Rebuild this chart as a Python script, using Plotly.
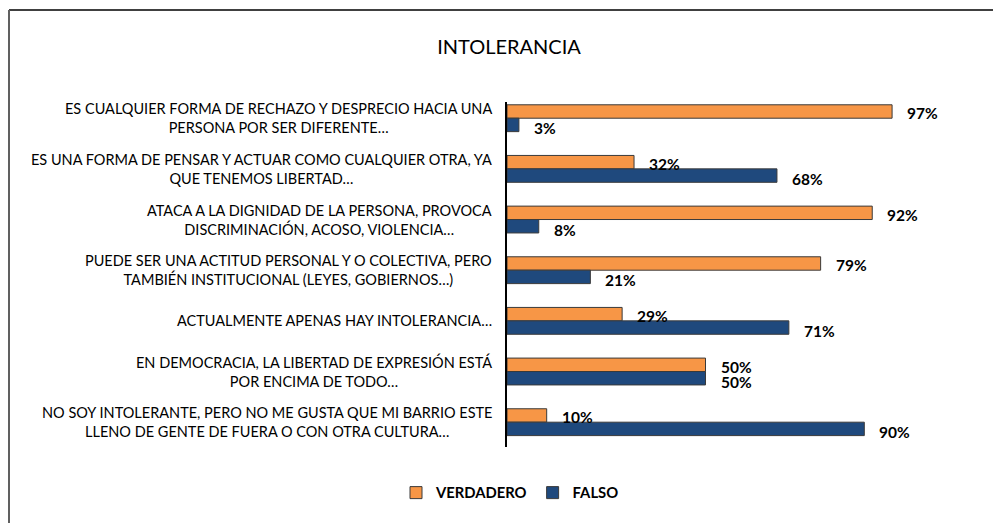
import plotly.graph_objects as go

categories = [
    "ES CUALQUIER FORMA DE RECHAZO Y DESPRECIO HACIA UNA<br>PERSONA POR SER DIFERENTE…",
    "ES UNA FORMA DE PENSAR Y ACTUAR COMO CUALQUIER OTRA, YA<br>QUE TENEMOS LIBERTAD…",
    "ATACA A LA DIGNIDAD DE LA PERSONA, PROVOCA<br>DISCRIMINACIÓN, ACOSO, VIOLENCIA…",
    "PUEDE SER UNA ACTITUD PERSONAL Y O COLECTIVA, PERO<br>TAMBIÉN INSTITUCIONAL (LEYES, GOBIERNOS…)",
    "ACTUALMENTE APENAS HAY INTOLERANCIA…",
    "EN DEMOCRACIA, LA LIBERTAD DE EXPRESIÓN ESTÁ<br>POR ENCIMA DE TODO…",
    "NO SOY INTOLERANTE, PERO NO ME GUSTA QUE MI BARRIO ESTE<br>LLENO DE GENTE DE FUERA O CON OTRA CULTURA…",
]
verdadero = [0.97, 0.32, 0.92, 0.79, 0.29, 0.50, 0.10]
falso = [0.03, 0.68, 0.08, 0.21, 0.71, 0.50, 0.90]
series_names = ["VERDADERO", "FALSO"]
colors = ["#F79646", "#1F497D"]

# page body margin offset (browser default 8px)
OX, OY = 8, 8
W, H = 1001 - OX, 523 - OY
ML, MR, MT, MB = 507 - OX, 97, 102 - OY, 76
PW = W - ML - MR
PH = H - MT - MB

def px_x(px):
    return (px - OX - ML) / PW

def px_y(py):
    return (H - MB - (py - OY)) / PH

ids = list(range(len(categories)))
FONT = "Lato"

fig = go.Figure()
for name, vals, col in zip(series_names, [verdadero, falso], colors):
    fig.add_trace(go.Bar(
        y=ids, x=vals, name=name, orientation="h",
        marker=dict(color=col, line=dict(color="#3a3a3a", width=1)),
        hoverinfo="x+name",
    ))

annotations = []
for i, cat in enumerate(categories):
    annotations.append(dict(
        x=0, y=i, xref="x", yref="y", text=cat, showarrow=False,
        xanchor="right", yanchor="middle", xshift=-13, align="center",
        font=dict(family=FONT, size=14.5, color="#000000"),
    ))
for vals, ys in [(verdadero, 5), (falso, -10)]:
    for i, v in enumerate(vals):
        annotations.append(dict(
            x=v, y=i, xref="x", yref="y", text=f"{round(v*100)}%",
            showarrow=False, xanchor="left", yanchor="middle",
            xshift=13, yshift=ys,
            font=dict(family=FONT, size=15.5, color="#000000", weight="bold"),
        ))

shapes = [
    dict(type="line", xref="paper", yref="paper",
         x0=px_x(9), x1=px_x(1001), y0=px_y(10), y1=px_y(10),
         line=dict(color="#000000", width=1.5)),
    dict(type="line", xref="paper", yref="paper",
         x0=px_x(9), x1=px_x(9), y0=px_y(10), y1=px_y(523),
         line=dict(color="#606060", width=2)),
]

fig.update_layout(
    width=W, height=H,
    margin=dict(l=ML, r=MR, t=MT, b=MB),
    paper_bgcolor="white", plot_bgcolor="white",
    barmode="group", bargap=0.47, bargroupgap=0,
    title=dict(text="INTOLERANCIA", x=(509 - OX) / W, xref="container", xanchor="center",
               y=1 - (47 - OY) / H, yref="container", yanchor="middle",
               font=dict(family=FONT, size=20, color="#000000")),
    xaxis=dict(range=[0, 1], showgrid=False, zeroline=False, showticklabels=False,
               showline=False, ticks=""),
    yaxis=dict(range=[6.49, -0.32], showgrid=False, zeroline=False,
               showticklabels=False, ticks="", showline=True,
               linecolor="#000000", linewidth=1.5,
               tickmode="array", tickvals=ids),
    legend=dict(orientation="h", x=(510 - OX) / W, xref="container", xanchor="center",
                y=1 - (493 - OY) / H, yref="container", yanchor="middle",
                font=dict(family=FONT, size=14.8, color="#000000", weight="bold"),
                itemwidth=30, traceorder="normal"),
    annotations=annotations,
    shapes=shapes,
    showlegend=True,
)

fig.write_html("out.html")
